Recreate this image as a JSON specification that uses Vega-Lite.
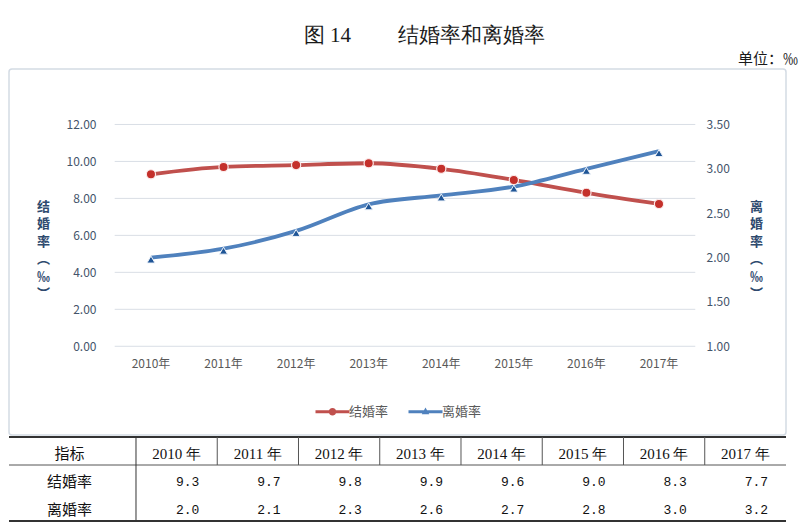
{
  "$schema": "https://vega.github.io/schema/vega-lite/v6.json",
  "background": "white",
  "padding": {"left": 8, "top": 25, "right": 3, "bottom": 4},
  "title": {"text": "图 14　　 结婚率和离婚率", "font": "Liberation Serif", "fontSize": 21, "fontWeight": "normal", "color": "#1a1a1a", "anchor": "middle", "dx": 21, "offset": 5},
  "config": {"view": {"stroke": null}, "font": "Noto Sans CJK SC"},
  "spacing": 0,
  "datasets": {
    "rates": [
      {"year": "2010", "结婚率": 9.3, "离婚率": 2.0},
      {"year": "2011", "结婚率": 9.7, "离婚率": 2.1},
      {"year": "2012", "结婚率": 9.8, "离婚率": 2.3},
      {"year": "2013", "结婚率": 9.9, "离婚率": 2.6},
      {"year": "2014", "结婚率": 9.6, "离婚率": 2.7},
      {"year": "2015", "结婚率": 9.0, "离婚率": 2.8},
      {"year": "2016", "结婚率": 8.3, "离婚率": 3.0},
      {"year": "2017", "结婚率": 7.7, "离婚率": 3.2}
    ],
    "grid": [{"v": 0}, {"v": 2}, {"v": 4}, {"v": 6}, {"v": 8}, {"v": 10}, {"v": 12}]
  },
  "vconcat": [
    {
      "width": 777,
      "height": 366,
      "title": {"text": "单位：‰", "anchor": "end", "font": "Noto Sans CJK SC", "fontSize": 15, "fontWeight": "normal", "color": "#1a1a1a", "dx": 12, "offset": 2},
      "view": {"stroke": "#d3dbe4", "strokeWidth": 1.5, "cornerRadius": 3, "fill": "white"},
      "data": {"name": "rates"},
      "encoding": {
        "x": {
          "field": "year", "type": "nominal",
          "scale": {"type": "band", "domain": ["_L", "2010", "2011", "2012", "2013", "2014", "2015", "2016", "2017", "_R"], "paddingInner": 0, "paddingOuter": 0.353, "align": 0.646},
          "axis": {"orient": "bottom", "offset": -88.7, "domain": false, "ticks": false, "tickSize": 0, "grid": false, "labelPadding": 12, "labelAngle": 0, "labelExpr": "length(datum.label) === 4 ? datum.label + '年' : ''", "labelFont": "Noto Sans CJK SC", "labelFontSize": 12, "labelColor": "#595959", "title": null}
        }
      },
      "layer": [
        {
          "layer": [
            {
              "data": {"name": "grid"},
              "mark": {"type": "rule", "color": "#d9dee5", "strokeWidth": 1},
              "encoding": {
                "y": {"field": "v", "type": "quantitative"},
                "x": {"datum": "2010", "bandPosition": 0},
                "x2": {"datum": "2017", "bandPosition": 1}
              }
            },
            {
              "mark": {"type": "line", "strokeWidth": 3.8, "interpolate": "monotone"},
              "encoding": {
                "y": {
                  "field": "结婚率", "type": "quantitative",
                  "scale": {"domain": [-4.8, 15], "nice": false, "zero": false},
                  "axis": {"orient": "left", "offset": -104, "values": [0, 2, 4, 6, 8, 10, 12], "format": ".2f", "domain": false, "ticks": false, "tickSize": 0, "grid": false, "labelPadding": 17, "labelFont": "Noto Sans CJK SC", "labelFontSize": 12, "labelColor": "#44546a", "title": ["结", "婚", "率", "︵", "‰", "︶"], "titleAngle": 0, "titleX": -70, "titleY": 137, "titleAlign": "center", "titleBaseline": "middle", "titleFont": "Noto Sans CJK SC", "titleFontSize": 13, "titleFontWeight": "bold", "titleColor": "#2e4a6e", "titleLineHeight": 17.5}
                },
                "color": {
                  "datum": "结婚率", "type": "nominal",
                  "scale": {"domain": ["结婚率", "离婚率"], "range": ["#c0504d", "#4f81bd"]},
                  "legend": {
                    "orient": "none", "legendX": 317, "legendY": 336, "direction": "horizontal", "title": null, "padding": 0,
                    "symbolSize": 100, "labelOffset": 10, "columnPadding": 19,
                    "labelFont": "Noto Sans CJK SC", "labelFontSize": 13, "labelColor": "#595959",
                    "encode": {
                      "symbols": {
                        "update": {
                          "shape": {"signal": "datum.value === '结婚率' ? 'M-3.4,-0.28H3.4V0.28H-3.4Z M0.75,0A0.75,0.75,0,1,1,-0.75,0A0.75,0.75,0,1,1,0.75,0Z' : 'M-3.4,-0.28H3.4V0.28H-3.4Z M0,-0.85L0.75,0.5H-0.75Z'"},
                          "fill": {"scale": "color", "field": "value"},
                          "strokeWidth": {"value": 0},
                          "opacity": {"value": 1}
                        }
                      }
                    }
                  }
                }
              }
            }
          ]
        },
        {
          "layer": [
            {
              "mark": {"type": "line", "strokeWidth": 3.8, "interpolate": "monotone"},
              "encoding": {
                "y": {
                  "field": "离婚率", "type": "quantitative",
                  "scale": {"domain": [0, 4.125], "nice": false, "zero": false},
                  "axis": {"orient": "right", "offset": -95, "values": [1, 1.5, 2, 2.5, 3, 3.5], "format": ".2f", "domain": false, "ticks": false, "tickSize": 0, "grid": false, "labelPadding": 15, "labelFont": "Noto Sans CJK SC", "labelFontSize": 12, "labelColor": "#44546a", "title": ["离", "婚", "率", "︵", "‰", "︶"], "titleAngle": 0, "titleX": 65, "titleY": 137, "titleAlign": "center", "titleBaseline": "middle", "titleFont": "Noto Sans CJK SC", "titleFontSize": 13, "titleFontWeight": "bold", "titleColor": "#2e4a6e", "titleLineHeight": 17.5}
                },
                "color": {"datum": "离婚率", "type": "nominal"}
              }
            },
            {
              "mark": {"type": "point", "filled": true, "shape": "triangle-up", "size": 65, "fill": "#1f5596", "stroke": "#eef3fa", "strokeWidth": 1, "opacity": 1, "yOffset": 2},
              "encoding": {"y": {"field": "离婚率", "type": "quantitative"}}
            }
          ]
        },
        {
          "mark": {"type": "point", "filled": true, "shape": "circle", "size": 85, "fill": "#c4302b", "stroke": "#fbeaea", "strokeWidth": 1.2, "opacity": 1},
          "encoding": {"y": {"field": "结婚率", "type": "quantitative", "scale": {"domain": [-4.8, 15], "nice": false, "zero": false}, "axis": null}}
        }
      ],
      "resolve": {"scale": {"y": "independent"}, "axis": {"y": "independent"}}
    },
    {
      "width": 777,
      "height": 84,
      "data": {"name": "rates"},
      "layer": [
        {
          "transform": [{"fold": ["结婚率", "离婚率"], "as": ["指标", "值"]}],
          "mark": {"type": "text", "align": "right", "baseline": "middle", "dy": 3, "font": "Liberation Mono", "fontSize": 13, "color": "#111111"},
          "encoding": {
            "x": {
              "field": "year", "type": "nominal", "bandPosition": 0.78,
              "scale": {"type": "band", "domain": ["2010", "2011", "2012", "2013", "2014", "2015", "2016", "2017"], "paddingInner": 0, "paddingOuter": 0.7815, "align": 1},
              "axis": {"orient": "top", "domain": false, "ticks": false, "tickSize": 0, "grid": false, "labelPadding": -16, "labelBaseline": "middle", "labelAngle": 0, "labelExpr": "datum.label + ' 年'", "labelFont": "Liberation Serif", "labelFontSize": 15, "labelColor": "#111111", "title": null}
            },
            "y": {
              "field": "指标", "type": "nominal",
              "scale": {"type": "band", "domain": ["指标", "结婚率", "离婚率"], "paddingInner": 0, "paddingOuter": 0},
              "axis": {"orient": "left", "domain": false, "ticks": false, "tickSize": 0, "grid": false, "labelPadding": -60, "labelAlign": "center", "labelBaseline": "middle", "labelOffset": 3, "labelFont": "Noto Sans CJK SC", "labelFontSize": 15, "labelColor": "#111111", "title": null}
            },
            "text": {"field": "值", "type": "quantitative", "format": ".1f"}
          }
        },
        {
          "data": {"values": [{}]},
          "mark": {"type": "rule", "color": "#333333", "strokeWidth": 2},
          "encoding": {"y": {"datum": "指标", "bandPosition": 0}}
        },
        {
          "data": {"values": [{}]},
          "mark": {"type": "rule", "color": "#555555", "strokeWidth": 1},
          "encoding": {"y": {"datum": "结婚率", "bandPosition": 0}}
        },
        {
          "data": {"values": [{}]},
          "mark": {"type": "rule", "color": "#333333", "strokeWidth": 2},
          "encoding": {"y": {"datum": "离婚率", "bandPosition": 1}}
        },
        {
          "data": {"values": [{}]},
          "mark": {"type": "rule", "color": "#333333", "strokeWidth": 1},
          "encoding": {"x": {"datum": "2010", "bandPosition": 0}}
        },
        {
          "transform": [{"filter": "datum.year !== '2010'"}],
          "mark": {"type": "rule", "color": "#555555", "strokeWidth": 1},
          "encoding": {
            "x": {"field": "year", "type": "nominal", "bandPosition": 0},
            "y": {"datum": "指标", "bandPosition": 0},
            "y2": {"datum": "结婚率", "bandPosition": 0}
          }
        }
      ]
    }
  ]
}
